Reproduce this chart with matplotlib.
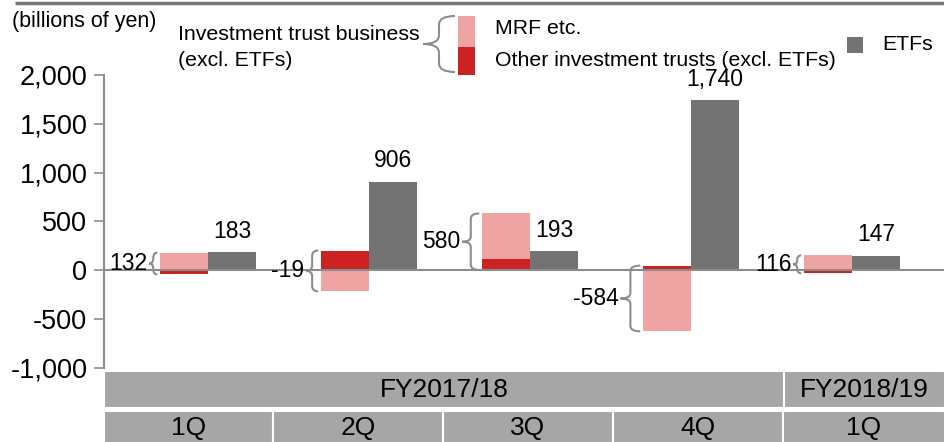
import math
import matplotlib
matplotlib.use('Agg')
import matplotlib.pyplot as plt
from matplotlib.path import Path
from matplotlib.patches import PathPatch, Rectangle
from matplotlib.ticker import FuncFormatter

plt.rcParams['font.family'] = ['Liberation Sans', 'DejaVu Sans']

# data (billions of yen)
quarters = ['1Q', '2Q', '3Q', '4Q', '1Q']
fiscal_years = ['FY2017/18', 'FY2018/19']
mrf = [178, -219, 467, -629, 150]
other = [-46, 200, 113, 45, -34]
totals = [132, -19, 580, -584, 116]
etfs = [183, 906, 193, 1740, 147]

PINK = '#f0a3a3'
RED = '#cc2222'
GREY = '#737373'
LINE = '#8c8c8c'
BOX = '#a6a6a6'

W, H = 945, 442
fig = plt.figure(figsize=(W / 100, H / 100), dpi=100)


def px_box(x0, y0, x1, y1):
    # pixel rectangle (top-left origin) -> figure fraction
    return [x0 / W, 1 - y1 / H, (x1 - x0) / W, (y1 - y0) / H]


def brace(ax, x_tip, x_end, y0, y1, rmax, **kw):
    xm = (x_tip + x_end) / 2
    ym = (y0 + y1) / 2
    r = math.copysign(min(abs(y1 - y0) / 4, rmax), y1 - y0)
    verts = [(x_end, y1), (xm, y1), (xm, y1 - r), (xm, ym + r), (xm, ym), (x_tip, ym),
             (xm, ym), (xm, ym - r), (xm, y0 + r), (xm, y0), (x_end, y0)]
    codes = [Path.MOVETO, Path.CURVE3, Path.CURVE3, Path.LINETO, Path.CURVE3, Path.CURVE3,
             Path.CURVE3, Path.CURVE3, Path.LINETO, Path.CURVE3, Path.CURVE3]
    ax.add_patch(PathPatch(Path(verts, codes), fill=False, clip_on=False, **kw))


# main chart
ax = fig.add_axes(px_box(104, 75, 945, 367.5))
ax.set_ylim(-1000, 2000)
ax.set_xlim(-0.646, 4.578)
bw = 0.3

for i in range(len(quarters)):
    xl = i - bw / 2
    pos, neg = 0, 0
    for v, c in ((other[i], RED), (mrf[i], PINK)):
        base = pos if v >= 0 else neg
        ax.bar(xl, v, bw, bottom=base, color=c, linewidth=0, zorder=2)
        if v >= 0:
            pos += v
        else:
            neg += v
    ax.bar(i + bw / 2, etfs[i], bw, color=GREY, linewidth=0, zorder=2)

    # brace + total label
    h_px = (pos - neg) / 3000 * 292.5
    wdt = max(8, 0.3 * h_px) / 161
    x_end = xl - bw / 2 - 0.015
    x_tip = x_end - wdt
    brace(ax, x_tip, x_end, neg, pos, 55, color=LINE, lw=1.5, zorder=3)
    ax.text(x_tip - 0.01, (pos + neg) / 2, f'{totals[i]:,}', ha='right', va='center',
            fontsize=16.5, zorder=4)

    ax.annotate(f'{etfs[i]:,}', (i + bw / 2, etfs[i]), xytext=(0, 15),
                textcoords='offset points', ha='center', va='center', fontsize=16.5)

ax.axhline(0, color=LINE, lw=1.5, zorder=3)
for s in ('top', 'right', 'bottom'):
    ax.spines[s].set_visible(False)
ax.spines['left'].set_color(LINE)
ax.spines['left'].set_linewidth(1.5)
ax.set_yticks([2000, 1500, 1000, 500, 0, -500, -1000])
ax.yaxis.set_major_formatter(FuncFormatter(lambda v, _: f'{v:,.0f}'))
ax.tick_params(axis='y', direction='out', length=7, width=1.2, color=LINE,
               labelsize=19.5, pad=5)
ax.set_xticks([])
ax.patch.set_alpha(0)

# overlay in pixel coordinates for legend and category boxes
lay = fig.add_axes([0, 0, 1, 1])
lay.set_xlim(0, W)
lay.set_ylim(H, 0)
lay.axis('off')

lay.plot([15, W], [3, 3], color='#777777', lw=2.5, solid_capstyle='butt')
lay.text(12, 21, '(billions of yen)', fontsize=15.5, va='center')
lay.text(178, 34, 'Investment trust business', fontsize=15.3, va='center')
lay.text(178, 61, '(excl. ETFs)', fontsize=15.3, va='center')
brace(lay, 423, 455, 72, 16, 9, color=LINE, lw=1.5)
lay.add_patch(Rectangle((458, 16), 17, 31, color=PINK, lw=0))
lay.add_patch(Rectangle((458, 47), 17, 28, color=RED, lw=0))
lay.text(495, 29, 'MRF etc.', fontsize=15.3, va='center')
lay.text(495, 60, 'Other investment trusts (excl. ETFs)', fontsize=15.3, va='center')
lay.add_patch(Rectangle((847, 37), 16, 16, color=GREY, lw=0))
lay.text(882, 45, 'ETFs', fontsize=15.3, va='center')

# category boxes
fy_edges = [104, 784, 945]
q_edges = [104, 273, 443, 613, 783, 945]
for j, name in enumerate(fiscal_years):
    x0, x1 = fy_edges[j], fy_edges[j + 1]
    lay.add_patch(Rectangle((x0, 371), x1 - x0, 37, facecolor=BOX, edgecolor='white', lw=1.5))
    lay.text((x0 + x1) / 2, 390, name, fontsize=19, ha='center', va='center')
for j, name in enumerate(quarters):
    x0, x1 = q_edges[j], q_edges[j + 1]
    lay.add_patch(Rectangle((x0, 411), x1 - x0, 35, facecolor=BOX, edgecolor='white', lw=1.5))
    lay.text((x0 + x1) / 2, 428, name, fontsize=19, ha='center', va='center')

fig.savefig('out.png', dpi=100)
